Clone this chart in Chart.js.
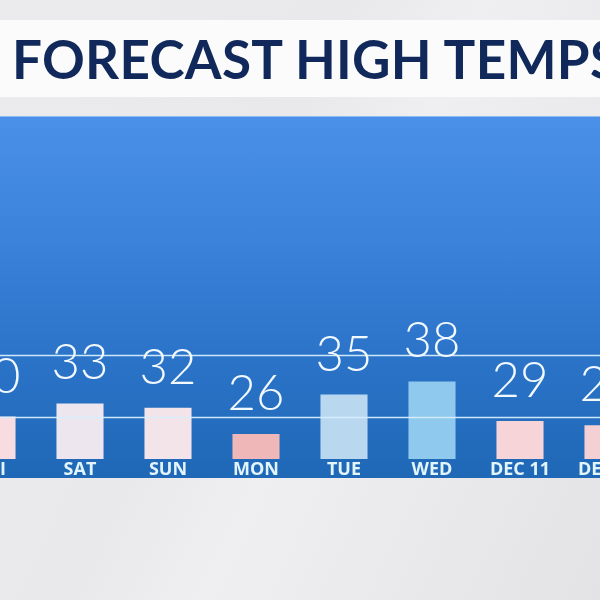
<!DOCTYPE html>
<html>
<head>
<meta charset="utf-8">
<script src="https://cdn.jsdelivr.net/npm/chart.js@4.4.1/dist/chart.umd.min.js"></script>
<style>
  html,body{margin:0;padding:0;width:600px;height:600px;overflow:hidden;}
  body{background:linear-gradient(115deg,#ebebed 0%,#e9e8ea 40%,#efeef0 55%,#e3e3e5 100%);position:relative;font-family:"Lato",sans-serif;}
  #title{position:absolute;left:0;top:20px;width:600px;height:77px;background:#fbfbfc;overflow:hidden;}
  #title span{position:absolute;left:12px;top:13px;font-size:53px;font-weight:700;letter-spacing:0.3px;color:#10295a;white-space:nowrap;line-height:52px;}
  #panel{position:absolute;left:0;top:116px;width:600px;height:361px;background:linear-gradient(180deg,#4b90e8 0%,#3a82da 35%,#2a72c6 70%,#1f68b6 100%);border-top:1px solid #8cbcf2;overflow:hidden;}
  #wrap{position:absolute;left:-52px;top:3px;width:704px;height:361px;}
</style>
</head>
<body>
<div id="title"><span>FORECAST HIGH TEMPS</span></div>
<div id="panel">
  <div id="wrap"><canvas id="bargraph"></canvas></div>
</div>
<script>
var days=["FRI","SAT","SUN","MON","TUE","WED","DEC 11","DEC 12"];
var highs=[30,33,32,26,35,38,29,28];
var barColors=["#f7dde2","#ede6ee","#f3e4ea","#efb7b8","#bad7f0","#8fc9ee","#f6d4d8","#f4d0d4"];
var guideLines=[30,44];

// decorative guide lines + the big numbers above each bar
var tempLabels={
    id:"tempLabels",
    afterDatasetsDraw:function(chart){
        var ctx=chart.ctx;
        var y=chart.scales.y;
        var area=chart.chartArea;
        ctx.save();
        ctx.strokeStyle="rgba(214,238,252,0.95)";
        ctx.lineWidth=1.6;
        for(var g=0;g<guideLines.length;g++){
            var gy=Math.round(y.getPixelForValue(guideLines[g]))+0.5;
            ctx.beginPath();
            ctx.moveTo(area.left,gy);
            ctx.lineTo(area.right,gy);
            ctx.stroke();
        }
        var meta=chart.getDatasetMeta(0);
        ctx.fillStyle="#f2f9ff";
        ctx.font="300 49px Lato";
        ctx.textAlign="center";
        ctx.textBaseline="alphabetic";
        for(var i=0;i<meta.data.length;i++){
            var bar=meta.data[i];
            ctx.fillText(String(highs[i]),bar.x,bar.y-24);
        }
        ctx.restore();
    }
};

var ctx=document.getElementById("bargraph");
var chart=new Chart(ctx,{
    type:"bar",
    data:{
        labels:days,
        datasets:[{
            data:highs,
            backgroundColor:barColors,
            borderWidth:0,
            categoryPercentage:1,
            barPercentage:0.535
        }]
    },
    options:{
        responsive:true,
        maintainAspectRatio:false,
        animation:false,
        layout:{padding:0},
        plugins:{legend:{display:false},tooltip:{enabled:false}},
        scales:{
            x:{
                grid:{display:false,drawTicks:false},
                border:{display:false},
                ticks:{
                    color:"#e2f4fc",
                    padding:2,
                    maxRotation:0,
                    autoSkip:false,
                    font:{family:"Open Sans",weight:"bold",size:18,lineHeight:1}
                }
            },
            y:{
                display:false,
                min:20.3,
                max:97.7
            }
        }
    },
    plugins:[tempLabels]
});
</script>
</body>
</html>
